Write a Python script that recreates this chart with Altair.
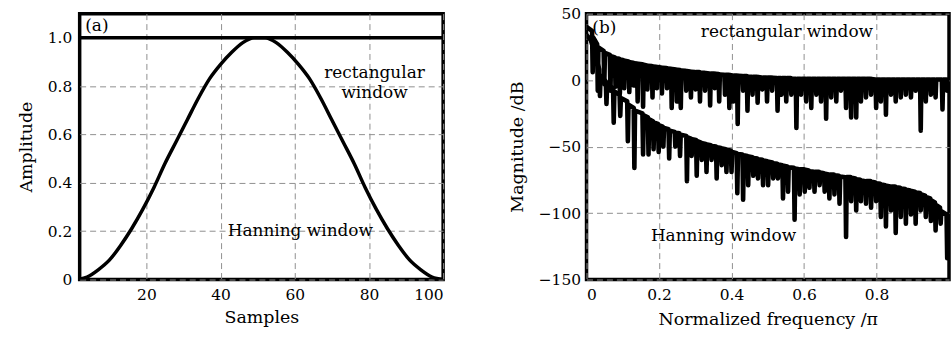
import altair as alt
import pandas as pd

# ---------------- panel (a): window shapes ----------------
hann_n = [1, 4, 7, 10, 13, 16, 19, 22, 25, 28, 31, 34, 37, 40, 43, 46, 49,
          52, 55, 58, 61, 64, 67, 70, 73, 76, 79, 82, 85, 88, 91, 94, 97, 100]
hann_w = [0.0, 0.01, 0.04, 0.08, 0.14, 0.21, 0.29, 0.38, 0.48, 0.57, 0.66, 0.75, 0.83, 0.89, 0.94, 0.98, 1.0,
          1.0, 0.98, 0.94, 0.89, 0.83, 0.75, 0.66, 0.57, 0.48, 0.38, 0.29, 0.21, 0.14, 0.08, 0.04, 0.01, 0.0]
rect_n = [1, 100]
rect_w = [1.0, 1.0]

# ---------------- panel (b): magnitude spectra (dB) ----------------
rect_start = [(0.0, 40.0)]
rect_dip_f = [0.017, 0.031, 0.049, 0.066, 0.080, 0.092, 0.104, 0.118, 0.130, 0.141,
              0.156, 0.168, 0.182, 0.194, 0.208, 0.222, 0.235, 0.249, 0.260, 0.275,
              0.288, 0.301, 0.313, 0.327, 0.341, 0.354, 0.366, 0.382, 0.394, 0.405,
              0.417, 0.432, 0.444, 0.458, 0.472, 0.485, 0.498, 0.512, 0.527, 0.538,
              0.551, 0.565, 0.579, 0.592, 0.606, 0.620, 0.634, 0.647, 0.661, 0.675,
              0.689, 0.702, 0.716, 0.730, 0.744, 0.757, 0.771, 0.785, 0.799, 0.812,
              0.826, 0.840, 0.853, 0.867, 0.881, 0.895, 0.908, 0.922, 0.936, 0.950,
              0.963, 0.982, 0.995]
rect_dip_db = [6, -8, -3, -8, -5, -10, -6, -9, -4, -16,
               -20, -7, -13, -6, -10, -6, -21, -16, -21, -8,
               -13, -7, -16, -8, -19, -6, -16, -11, -21, -16,
               -33, -8, -23, -11, -17, -7, -16, -8, -23, -11,
               -16, -11, -36, -11, -16, -21, -11, -16, -29, -13,
               -16, -8, -21, -28, -28, -16, -13, -11, -21, -16,
               -26, -11, -16, -13, -11, -13, -8, -38, -16, -11,
               -13, -22, -8]
rect_peak_db = [37, 27, 22, 19, 17, 16, 15, 14, 13, 12.5,
                12, 11, 10.5, 10, 9.5, 9, 8.5, 8, 7.5, 7,
                6.5, 6, 6, 5.5, 5, 5, 4.5, 4, 4, 3.5,
                3.5, 3, 3, 2.5, 2.5, 2, 2, 2, 1.5, 1.5,
                1.5, 1.5, 1, 1, 1, 1, 1, 1, 1, 1,
                1, 1, 1, 1, 1, 1, 1, 1, 0.5, 0.5,
                0.5, 0.5, 0.5, 0.5, 0.5, 0.5, 0.5, 0.5, 0.5, 0.5,
                0.5, 0.5, 0.5]
rect_end = [(1.0, 0.5)]

hann_start = [(0.0, 34.0), (0.012, 30.0), (0.025, 18.0)]
hann_dip_f = [0.037, 0.055, 0.075, 0.093, 0.114, 0.132, 0.156, 0.171, 0.185, 0.199,
              0.212, 0.228, 0.245, 0.258, 0.277, 0.290, 0.304, 0.318, 0.331, 0.345,
              0.359, 0.373, 0.386, 0.400, 0.416, 0.432, 0.446, 0.460, 0.473, 0.487,
              0.501, 0.515, 0.528, 0.542, 0.556, 0.574, 0.588, 0.602, 0.615, 0.629,
              0.643, 0.657, 0.670, 0.684, 0.698, 0.716, 0.730, 0.744, 0.757, 0.771,
              0.785, 0.799, 0.812, 0.826, 0.840, 0.853, 0.867, 0.881, 0.895, 0.908,
              0.922, 0.936, 0.950, 0.963, 0.977, 0.995]
hann_dip_db = [-12, -18, -32, -27, -46, -66, -56, -56, -52, -54,
               -50, -59, -50, -57, -76, -57, -72, -60, -69, -60,
               -74, -64, -69, -69, -85, -90, -79, -72, -74, -79,
               -79, -74, -74, -89, -84, -105, -86, -84, -81, -84,
               -79, -84, -89, -86, -93, -118, -91, -98, -91, -93,
               -96, -91, -103, -110, -98, -115, -103, -108, -101, -108,
               -98, -103, -106, -113, -108, -134]
hann_peak_db = [8, -1, -6, -11, -16, -21, -25, -28, -31, -33,
                -35, -37, -39, -40, -42, -44, -45, -47, -48, -49,
                -50, -51, -52, -53, -55, -56, -57, -58, -59, -60,
                -61, -62, -63, -64, -65, -66, -67, -67, -68, -69,
                -69, -70, -71, -71, -72, -73, -73, -74, -75, -76,
                -76, -77, -78, -79, -80, -80, -81, -82, -83, -84,
                -85, -87, -89, -92, -96, -101]
hann_end = []

SPIKE_HALF = 0.0018  # half-width of each null in normalized frequency


def build(name, start, dip_f, dip_db, peak_db, end):
    rows = []
    order = 0

    def add(f, d):
        nonlocal order
        rows.append({"series": name, "f": f, "db": d, "o": order})
        order += 1

    for f, d in start:
        add(f, d)
    for i, (f, d, p) in enumerate(zip(dip_f, dip_db, peak_db)):
        nxt = peak_db[i + 1] if i + 1 < len(peak_db) else p
        add(f - SPIKE_HALF, p)
        add(f, d)
        add(f + SPIKE_HALF, (p + nxt) / 2)
    for f, d in end:
        add(f, d)
    return rows


spec_df = pd.DataFrame(build("rect", rect_start, rect_dip_f, rect_dip_db, rect_peak_db, rect_end)
                       + build("hann", hann_start, hann_dip_f, hann_dip_db, hann_peak_db, hann_end))

FONT = "DejaVu Serif"
GRID = dict(grid=True, gridColor="#8f8f8f", gridDash=[6, 4], gridWidth=1)
AX = dict(labelFont=FONT, titleFont=FONT, labelFontSize=15.5, titleFontSize=17.5,
          labelColor="black", titleColor="black", titleFontWeight="normal",
          ticks=False, domain=False)

# ---------------- panel (a) ----------------
xa = alt.X("n:Q", scale=alt.Scale(domain=[2, 100], nice=False, zero=False),
           axis=alt.Axis(title="Samples", values=[20, 40, 60, 80, 100],
                         labelPadding=8, titlePadding=6, **GRID, **AX))
ya = alt.Y("w:Q", scale=alt.Scale(domain=[0, 1.1], nice=False),
           axis=alt.Axis(title="Amplitude", values=[0, 0.2, 0.4, 0.6, 0.8, 1.0],
                         labelExpr="datum.value == 0 ? '0' : format(datum.value, '.1f')",
                         labelPadding=8, titlePadding=12, **GRID, **AX))

hann_line = alt.Chart(pd.DataFrame({"n": hann_n, "w": hann_w})).mark_line(
    color="black", strokeWidth=3.5, interpolate="monotone", clip=True).encode(x=xa, y=ya)
rect_line = alt.Chart(pd.DataFrame({"n": rect_n, "w": rect_w})).mark_line(
    color="black", strokeWidth=3.5, clip=True).encode(x="n:Q", y="w:Q")

a_labels = pd.DataFrame({
    "n": [3.5, 81.5, 81.5, 61.5],
    "w": [1.05, 0.855, 0.77, 0.2],
    "t": ["(a)", "rectangular", "window", "Hanning window"],
})
a_text_left = alt.Chart(a_labels.iloc[[0]]).mark_text(
    font=FONT, fontSize=17, color="black", align="left").encode(x="n:Q", y="w:Q", text="t:N")
a_text_c = alt.Chart(a_labels.iloc[1:]).mark_text(
    font=FONT, fontSize=17, color="black", align="center").encode(x="n:Q", y="w:Q", text="t:N")

panel_a = alt.layer(hann_line, rect_line, a_text_left, a_text_c).properties(width=365, height=267)

# ---------------- panel (b) ----------------
xb = alt.X("f:Q", scale=alt.Scale(domain=[0, 1], nice=False),
           axis=alt.Axis(title="Normalized frequency /π", values=[0, 0.2, 0.4, 0.6, 0.8],
                         labelExpr="datum.value == 0 ? '0' : format(datum.value, '.1f')",
                         labelPadding=8, titlePadding=8, **GRID, **AX))
yb = alt.Y("db:Q", scale=alt.Scale(domain=[-150, 50], nice=False),
           axis=alt.Axis(title="Magnitude /dB", values=[50, 0, -50, -100, -150],
                         labelPadding=6, titlePadding=12, **GRID, **AX))

spec_lines = alt.Chart(spec_df).mark_line(
    color="black", strokeWidth=4.6, strokeJoin="round", strokeCap="round", clip=True
).encode(x=xb, y=yb, detail="series:N", order="o:Q")

b_labels = pd.DataFrame({
    "f": [0.016, 0.553, 0.378],
    "db": [39.5, 36.5, -117],
    "t": ["(b)", "rectangular window", "Hanning window"],
})
b_text_left = alt.Chart(b_labels.iloc[[0]]).mark_text(
    font=FONT, fontSize=17, color="black", align="left").encode(x="f:Q", y="db:Q", text="t:N")
b_text_c = alt.Chart(b_labels.iloc[1:]).mark_text(
    font=FONT, fontSize=17, color="black", align="center").encode(x="f:Q", y="db:Q", text="t:N")

panel_b = alt.layer(spec_lines, b_text_left, b_text_c).properties(width=364, height=267)

chart = alt.hconcat(panel_a, panel_b, spacing=61).properties(
    padding={"left": 15, "top": 4, "right": 0, "bottom": 2}
).configure(
    background="white"
).configure_view(
    stroke="black", strokeWidth=3.5
)

chart.save("out.html", embed_options={"renderer": "svg", "actions": False})
